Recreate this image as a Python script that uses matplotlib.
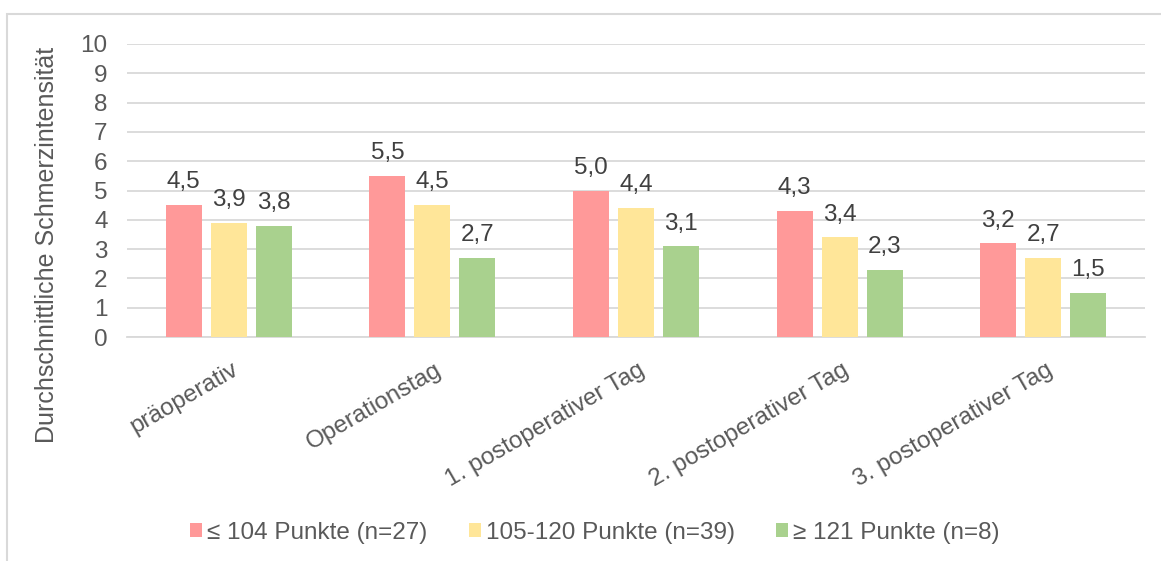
import numpy as np
import matplotlib.pyplot as plt
from matplotlib.patches import Rectangle

categories = ["präoperativ", "Operationstag", "1. postoperativer Tag",
              "2. postoperativer Tag", "3. postoperativer Tag"]
series_names = ["≤ 104 Punkte (n=27)", "105-120 Punkte (n=39)", "≥ 121 Punkte (n=8)"]
low = [4.5, 5.5, 5.0, 4.3, 3.2]
mid = [3.9, 4.5, 4.4, 3.4, 2.7]
high = [3.8, 2.7, 3.1, 2.3, 1.5]
colors = ["#FF9999", "#FFE699", "#A9D18E"]

text_col = "#595959"
grid_col = "#D9D9D9"
fs = 17.5
plt.rcParams['font.family'] = ['Liberation Sans', 'DejaVu Sans']

fig = plt.figure(figsize=(11.61, 5.61), dpi=100)
ax = fig.add_axes([127/1161, 1 - 337/561, (1145 - 127)/1161, (337 - 44)/561])

# chart frame (only top and left edges visible in the reference)
fig.patches.append(Rectangle((7/1161, -0.1), 1.2, 1 - 14/561 + 0.1, transform=fig.transFigure,
                             fill=False, edgecolor=grid_col, linewidth=1.5, zorder=0))

x = np.arange(len(categories))
width = 0.177
step = 0.221
for i, (vals, name) in enumerate(zip([low, mid, high], series_names)):
    pos = x + (i - 1) * step
    ax.bar(pos, vals, width, color=colors[i], label=name, zorder=3)
    for p, v in zip(pos, vals):
        ax.annotate(f"{v:.1f}".replace(".", ","), (p, v), xytext=(0, 12),
                    textcoords="offset points", ha="center", va="baseline",
                    fontsize=fs, color="#404040")

ax.set_xlim(-0.5, len(categories) - 0.5)
ax.set_ylim(0, 10)
ax.set_yticks(range(0, 11))
ax.yaxis.grid(True, color=grid_col, linewidth=1.3, zorder=0)
ax.set_axisbelow(True)
for s in ["top", "right", "left"]:
    ax.spines[s].set_visible(False)
ax.spines["bottom"].set_color(grid_col)
ax.spines["bottom"].set_linewidth(1.3)
ax.tick_params(axis="both", length=0, labelsize=fs, labelcolor=text_col)
ax.tick_params(axis="y", pad=14)
ax.set_xticks(x)
ax.set_xticklabels([])
for xi, lab in zip(x, categories):
    ax.annotate(lab, (xi, 0), xytext=(1.5, -15.5), textcoords="offset points",
                ha="right", va="top", rotation=30, rotation_mode="anchor",
                fontsize=fs, color=text_col)

fig.text(47/1161, 1 - 245/561, "Durchschnittliche Schmerzintensität", rotation=90,
         ha="center", va="center", fontsize=18, color=text_col)

leg = fig.legend(loc="center", bbox_to_anchor=(595/1161, 1 - 533/561), ncol=3,
                 frameon=False, fontsize=fs, handlelength=0.5, handleheight=0.5,
                 handletextpad=0.2, columnspacing=1.7)
for t in leg.get_texts():
    t.set_color(text_col)

fig.savefig("out.png", dpi=100)
